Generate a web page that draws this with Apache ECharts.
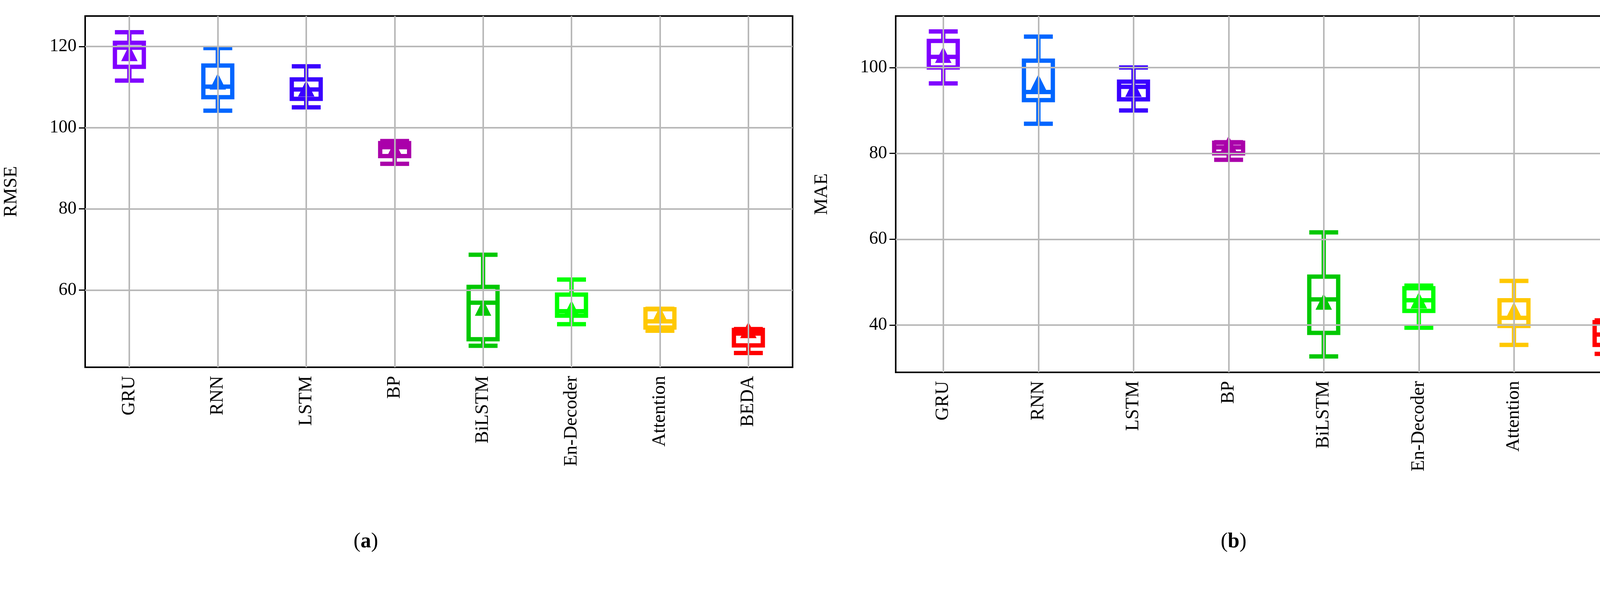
<!DOCTYPE html>
<html>
<head>
<meta charset="utf-8">
<script src="https://cdn.jsdelivr.net/npm/echarts@6/dist/echarts.min.js"></script>
<style>
  html, body { margin: 0; padding: 0; background: #fff; }
  #chart { width: 4271px; height: 1528px; }
</style>
</head>
<body>
<div id="chart"></div>
<script>
// models on the x axis
const models = ['GRU', 'RNN', 'LSTM', 'BP', 'BiLSTM', 'En-Decoder', 'Attention', 'BEDA'];
const colors = ['#8000ff', '#0066ff', '#3a00ff', '#aa00aa', '#00c800', '#00ff00', '#ffc800', '#ff0000'];

// [lower whisker, Q1, median, Q3, upper whisker]
const rmseBox = [
  [111.6, 115.0, 119.7, 120.9, 123.5],
  [104.2, 107.5, 110.1, 115.3, 119.6],
  [105.0, 107.1, 109.4, 111.9, 115.1],
  [91.1, 93.0, 95.2, 96.2, 96.7],
  [46.3, 47.9, 56.9, 60.8, 68.7],
  [51.6, 53.7, 54.8, 58.9, 62.6],
  [50.0, 50.8, 52.3, 55.3, 55.4],
  [44.5, 46.4, 49.3, 50.2, 50.4]
];
const rmseMean = [118.4, 111.4, 109.7, 94.7, 55.7, 55.5, 54.0, 50.2];

const maeBox = [
  [96.3, 100.0, 102.5, 106.2, 108.4],
  [86.9, 92.4, 94.3, 101.6, 107.2],
  [90.0, 92.6, 95.5, 96.7, 100.0],
  [78.5, 80.0, 81.4, 82.5, 82.6],
  [32.7, 38.2, 46.0, 51.3, 61.6],
  [39.4, 43.3, 45.8, 48.6, 49.2],
  [35.4, 39.8, 41.7, 45.8, 50.3],
  [33.3, 35.4, 37.8, 40.7, 41.1]
];
const maeMean = [103.0, 96.5, 95.1, 82.2, 45.5, 45.8, 43.5, 39.5];

const rmseTicks = [60, 80, 100, 120];
const maeTicks = [40, 60, 80, 100];

const font = 'Liberation Serif';
const gridGrey = '#b8b8b8';

function xAxisFor(idx) {
  return {
    type: 'category', gridIndex: idx, data: models,
    axisLine: { show: false },
    axisTick: { alignWithLabel: true, length: 16, lineStyle: { color: '#000', width: 3 } },
    axisLabel: { rotate: 90, fontFamily: font, fontSize: 48, color: '#000', margin: 22 },
    splitLine: { show: false }
  };
}

function yAxisFor(idx, name, min, max, ticks) {
  return {
    type: 'value', gridIndex: idx, min: min, max: max, name: name,
    nameLocation: 'middle', nameGap: 165, nameRotate: 90,
    nameTextStyle: { fontFamily: font, fontSize: 48, color: '#000' },
    axisLine: { show: false },
    axisTick: { show: true, customValues: ticks, length: 16, lineStyle: { color: '#000', width: 3 } },
    axisLabel: { customValues: ticks, fontFamily: font, fontSize: 46, color: '#000', margin: 22 },
    splitLine: { show: false }
  };
}

function gridLines(ticks) {
  return {
    silent: true, symbol: 'none', label: { show: false },
    lineStyle: { color: gridGrey, width: 4, type: 'solid', opacity: 1 },
    data: models.map(m => ({ xAxis: m })).concat(ticks.map(t => ({ yAxis: t })))
  };
}

function seriesFor(idx, box, mean, ticks) {
  return [
    {
      type: 'boxplot', xAxisIndex: idx, yAxisIndex: idx, boxWidth: [74, 74],
      data: box.map((v, i) => ({
        value: v,
        itemStyle: { color: '#fff', borderColor: colors[i], borderWidth: 11 }
      })),
      markLine: gridLines(ticks),
      z: 3
    },
    {
      type: 'scatter', xAxisIndex: idx, yAxisIndex: idx, symbol: 'triangle', symbolSize: 42,
      data: mean.map((v, i) => ({ value: v, itemStyle: { color: colors[i], opacity: 1 } })),
      z: 4
    }
  ];
}

const chart = echarts.init(document.getElementById('chart'));
chart.setOption({
  animation: false,
  backgroundColor: '#fff',
  grid: [
    { left: 218, right: 2242, top: 41, bottom: 588, show: true, borderColor: '#000', borderWidth: 4, backgroundColor: 'transparent' },
    { left: 2293, right: 30, top: 41, bottom: 575, show: true, borderColor: '#000', borderWidth: 4, backgroundColor: 'transparent' }
  ],
  xAxis: [xAxisFor(0), xAxisFor(1)],
  yAxis: [yAxisFor(0, 'RMSE', 41.0, 127.5, rmseTicks), yAxisFor(1, 'MAE', 29.0, 112.0, maeTicks)],
  series: seriesFor(0, rmseBox, rmseMean, rmseTicks).concat(seriesFor(1, maeBox, maeMean, maeTicks)),
  graphic: [
    { type: 'text', left: 905, top: 1360, style: { rich: { b: { fontWeight: 'bold', fontFamily: font, fontSize: 54 }, n: { fontFamily: font, fontSize: 54 } }, text: '{n|(}{b|a}{n|)}' } },
    { type: 'text', left: 3125, top: 1360, style: { rich: { b: { fontWeight: 'bold', fontFamily: font, fontSize: 54 }, n: { fontFamily: font, fontSize: 54 } }, text: '{n|(}{b|b}{n|)}' } }
  ]
});
</script>
</body>
</html>
